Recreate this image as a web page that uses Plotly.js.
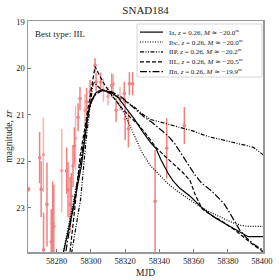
<!DOCTYPE html>
<html><head><meta charset="utf-8">
<script src="https://cdn.plot.ly/plotly-3.0.1.min.js"></script>
<style>html,body{margin:0;padding:0;background:#fff;}#chart{width:280px;height:280px;}</style>
</head><body><div id="chart"></div>
<script>
// Observations (zr band)
const obsMjdA = [58263.5,58270.0,58270.9,58272.3,58274.3,58276.8,58277.6,58278.3,58285.8,58286.6,58287.8,58288.5,58289.5,58290.3,58292.5,58293.6,58297.5,58299.5,58302.4,58303.0,58305.7,58312.2,58314.7,58319.5,58320.0,58321.9,58322.5,58324.4,58337.5,58344.3,58354.6];
const obsMagA = [22.60,21.92,22.60,23.90,22.93,23.73,23.33,23.40,22.20,22.61,22.93,22.75,22.10,21.67,21.05,20.65,20.72,20.50,19.93,20.29,20.29,20.36,20.90,20.54,21.09,21.30,20.33,20.33,22.86,21.72,21.23];
const obsErrA = [0.05,0.55,0.60,0.80,0.90,0.70,0.90,0.90,0.50,0.60,0.60,0.50,0.45,0.40,0.30,0.25,0.30,0.25,0.15,0.20,0.20,0.25,0.25,0.25,0.45,0.40,0.25,0.25,1.10,0.65,0.40];
const obsMjdB = [58272.2,58282.9,58291.0,58296.5,58307.3,58310.0,58313.1,58317.0];
const obsMagB = [21.86,22.20,21.50,20.90,20.47,20.60,20.33,20.65];
const obsErrB = [0.80,0.90,0.70,0.35,0.25,0.20,0.20,0.25];

// Model curves
const iaMjd  = [58283.0,58284.0,58289.5,58294.4,58298.3,58300.0,58303.0,58306.0,58312.0,58316.0,58320.0,58325.0,58330.0,58335.0,58338.0,58341.0,58345.0,58348.0,58352.0,58358.0,58365.0,58372.0,58378.0,58383.0,58388.0,58392.0,58401.0];
const iaMag  = [24.2,23.95,23.04,22.10,21.00,20.70,20.52,20.46,20.52,20.63,20.83,21.07,21.35,21.60,21.72,21.97,22.25,22.42,22.58,22.75,23.00,23.20,23.33,23.44,23.55,23.62,23.62];
const ibcMjd = [58283.0,58283.8,58289.0,58294.0,58298.0,58300.5,58303.0,58306.0,58310.0,58315.0,58320.0,58325.0,58330.0,58335.0,58340.0,58345.0,58350.0,58355.0,58360.0,58365.0,58370.0,58377.0,58383.0,58388.0,58392.0,58401.0];
const ibcMag = [24.2,23.95,23.00,22.05,21.00,20.70,20.52,20.47,20.50,20.70,21.00,21.40,21.82,22.10,22.30,22.48,22.63,22.76,22.88,23.00,23.10,23.22,23.32,23.38,23.40,23.40];
const iipMjd = [58288.0,58288.8,58294.0,58297.0,58299.5,58301.4,58305.0,58310.0,58315.0,58320.0,58325.0,58330.0,58335.0,58340.0,58345.0,58350.0,58355.0,58360.0,58365.0,58370.0,58375.0,58380.0,58385.0,58390.0,58395.0,58398.0,58401.0];
const iipMag = [24.2,23.95,22.80,21.60,20.80,20.29,20.42,20.52,20.60,20.70,20.82,20.98,21.10,21.15,21.20,21.26,21.30,21.35,21.42,21.48,21.52,21.57,21.61,21.65,21.70,21.78,21.87];
const iilMjd = [58287.0,58287.8,58290.0,58293.6,58297.5,58300.0,58302.4,58305.0,58308.0,58313.0,58318.0,58323.0,58328.0,58333.0,58338.0,58343.0,58348.0,58354.0,58358.0,58361.0,58365.0,58370.0,58375.0,58380.0,58385.0,58390.0,58395.0,58401.0];
const iilMag = [24.2,23.95,23.20,21.90,21.00,20.45,19.96,20.15,20.35,20.62,20.85,21.05,21.22,21.45,21.70,21.88,22.05,22.25,22.42,22.72,23.02,23.15,23.25,23.38,23.50,23.65,23.80,23.95];
const iinMjd = [58284.5,58285.3,58290.0,58294.5,58298.0,58300.5,58303.0,58307.0,58312.0,58318.0,58322.0,58326.0,58331.0,58336.0,58340.0,58345.0,58349.0,58353.0,58357.0,58361.0,58365.0,58370.0,58375.0,58378.0,58381.0,58384.0,58387.0,58391.0,58395.0,58401.0];
const iinMag = [24.2,23.95,22.90,21.90,21.00,20.70,20.55,20.47,20.50,20.62,20.75,20.88,21.04,21.17,21.30,21.45,21.62,21.85,22.07,22.30,22.48,22.62,22.80,22.92,23.10,23.30,23.48,23.65,23.78,23.92];

const labels = [
  "Ia, <i>z</i> = 0.26, <i>M</i> ≃ −20.0<sup>m</sup>",
  "Ibc, <i>z</i> = 0.26, <i>M</i> ≃ −20.0<sup>m</sup>",
  "IIP, <i>z</i> = 0.26, <i>M</i> ≃ −20.2<sup>m</sup>",
  "IIL, <i>z</i> = 0.26, <i>M</i> ≃ −20.5<sup>m</sup>",
  "IIn, <i>z</i> = 0.26, <i>M</i> ≃ −19.9<sup>m</sup>"
];
const xTicks = [58280,58300,58320,58340,58360,58380,58400];
const yTicks = [19,20,21,22,23];

const SERIF = "Liberation Serif, DejaVu Serif, serif";
const dashes = ['solid','1px,1.5px','4px,1.5px,1px,1.5px,1px,1.5px','4px,2px','7px,2px,1.5px,2px'];
function obs(x,y,e,col){
  return {x:x,y:y,type:'scatter',mode:'markers',showlegend:false,
    marker:{color:col,size:3.5},
    error_y:{type:'data',array:e,visible:true,color:col,thickness:1.5,width:0}};
}
function model(x,y,i){
  return {x:x,y:y,type:'scatter',mode:'lines',name:labels[i],showlegend:false,
    line:{color:'#000',width:1.2,dash:dashes[i]}};
}
const data = [
  obs(obsMjdB,obsMagB,obsErrB,'rgba(240,128,128,0.6)'),
  obs(obsMjdA,obsMagA,obsErrA,'rgba(240,128,128,1)'),
  model(iaMjd,iaMag,0),
  model(ibcMjd,ibcMag,1),
  model(iipMjd,iipMag,2),
  model(iilMjd,iilMag,3),
  model(iinMjd,iinMag,4)
];

// hand-drawn legend box (paper coords)
const legRows = [0.952,0.909,0.866,0.823,0.781];
const shapes = [{type:'rect',xref:'paper',yref:'paper',x0:0.4638,x1:0.9957,y0:0.7576,y1:0.987,
  line:{color:'#ccc',width:0.8},fillcolor:'#fff',layer:'above'}];
const annotations = [{text:'Best type: IIL',xref:'paper',yref:'paper',x:0.02,y:0.975,xanchor:'left',yanchor:'top',
    showarrow:false,font:{family:SERIF,size:9,color:'#222'}}];
labels.forEach((t,i)=>{
  shapes.push({type:'line',xref:'paper',yref:'paper',x0:0.4766,x1:0.5745,y0:legRows[i],y1:legRows[i],
    line:{color:'#000',width:1.2,dash:dashes[i]},layer:'above'});
  annotations.push({text:t,xref:'paper',yref:'paper',x:0.5915,y:legRows[i],xanchor:'left',yanchor:'middle',
    showarrow:false,font:{family:SERIF,size:7,color:'#222'}});
});

const axisCommon = {showgrid:false,zeroline:false,showline:true,linecolor:'#999',linewidth:1.5,mirror:true,
  ticks:'inside',ticklen:3,tickcolor:'#555',tickwidth:0.8,
  tickfont:{family:SERIF,size:8.5,color:'#222'}};
const layout = {
  width:280,height:280,
  margin:{l:28,r:17,t:21,b:28},
  paper_bgcolor:'#fff',plot_bgcolor:'#fff',
  title:{text:'SNAD184',font:{family:SERIF,size:11,color:'#222'},x:0.52,xanchor:'center',y:0.963,yanchor:'middle'},
  xaxis:Object.assign({},axisCommon,{range:[58263.2,58400.6],tickvals:xTicks,ticktext:xTicks.map(String),
    title:{text:'MJD',font:{family:SERIF,size:9.5,color:'#222'},standoff:4}}),
  yaxis:Object.assign({},axisCommon,{range:[23.95,18.98],tickvals:yTicks,ticktext:yTicks.map(String),
    title:{text:'magnitude, <i>zr</i>',font:{family:SERIF,size:9.5,color:'#222'},standoff:2}}),
  showlegend:false,
  shapes:shapes,
  annotations:annotations
};
Plotly.newPlot('chart',data,layout,{displayModeBar:false,staticPlot:true});
</script></body></html>
